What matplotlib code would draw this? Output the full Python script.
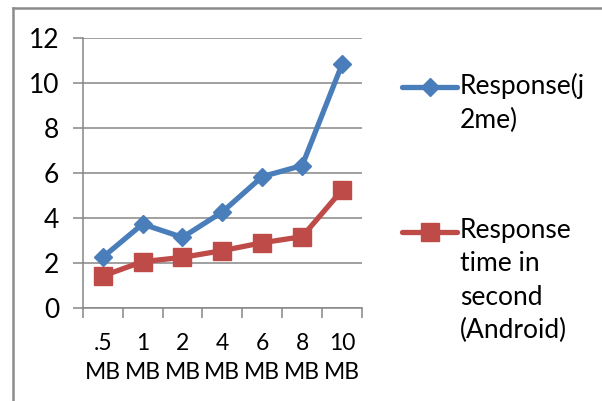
import matplotlib
matplotlib.use("Agg")
import matplotlib.pyplot as plt
from matplotlib.lines import Line2D

categories = [".5\nMB", "1\nMB", "2\nMB", "4\nMB", "6\nMB", "8\nMB", "10\nMB"]
j2me = [2.25, 3.73, 3.14, 4.27, 5.84, 6.33, 10.83]
android = [1.42, 2.06, 2.25, 2.55, 2.9, 3.17, 5.24]
series_labels = ["Response(j\n2me)", "Response\ntime in\nsecond\n(Android)"]
yticks = [0, 2, 4, 6, 8, 10, 12]

BLUE = "#4A7EBB"
RED = "#BE4B48"
GRID = "#868686"
FONT = "Lato"

fig = plt.figure(figsize=(6.02, 4.01), dpi=100)
W, H = 602, 401
ax = fig.add_axes([82.7 / W, 1 - 308 / H, (362 - 82.7) / W, (308 - 38) / H])

x = list(range(len(categories)))
ax.plot(x, j2me, color=BLUE, lw=3.8, marker="D", ms=9, mfc=BLUE, mec=BLUE, zorder=3, clip_on=False)
ax.plot(x, android, color=RED, lw=3.8, marker="s", ms=13, mfc=RED, mec=RED, zorder=3, clip_on=False)

ax.set_xlim(-0.5, len(categories) - 0.5)
ax.set_ylim(0, 12)
ax.set_yticks(yticks)
ax.set_yticklabels([str(v) for v in yticks], fontsize=19, fontname=FONT)
ax.yaxis.grid(True, color=GRID, lw=1.1)
ax.set_axisbelow(True)

ax.set_xticks(x)
ax.set_xticklabels(categories, fontsize=16.5, fontname=FONT, linespacing=1.45)
ax.set_xticks([i - 0.5 for i in range(len(categories) + 1)], minor=True)
ax.tick_params(axis="x", which="major", length=0, pad=18)
ax.tick_params(axis="x", which="minor", length=7, width=1.1, color=GRID)
ax.tick_params(axis="y", length=7, width=1.1, color=GRID, pad=10)

for s in ["top", "right"]:
    ax.spines[s].set_visible(False)
for s in ["left", "bottom"]:
    ax.spines[s].set_color(GRID)
    ax.spines[s].set_linewidth(1.1)

# legend (manual, figure pixel coordinates)
def fx(px):
    return px / W

def fy(py):
    return 1 - py / H

for (yy, col, mk, ms, lab) in [(87, BLUE, "D", 9, series_labels[0]), (232, RED, "s", 13, series_labels[1])]:
    fig.add_artist(Line2D([fx(402), fx(457)], [fy(yy), fy(yy)], color=col, lw=3.8,
                          solid_capstyle="round", transform=fig.transFigure))
    fig.add_artist(Line2D([fx(429.5)], [fy(yy)], color=col, marker=mk, ms=ms, mfc=col, mec=col,
                          transform=fig.transFigure))
    fig.text(fx(460), fy(yy - 14), lab, fontsize=19, fontname=FONT, va="top", ha="left",
             linespacing=1.42, color="black")

# chart border (top and left visible)
fig.add_artist(Line2D([fx(13), fx(602)], [fy(8), fy(8)], color="#8C8C8C", lw=1.8, transform=fig.transFigure))
fig.add_artist(Line2D([fx(13), fx(13)], [fy(8), fy(401)], color="#8C8C8C", lw=1.8, transform=fig.transFigure))

fig.savefig("out.png", dpi=100)
